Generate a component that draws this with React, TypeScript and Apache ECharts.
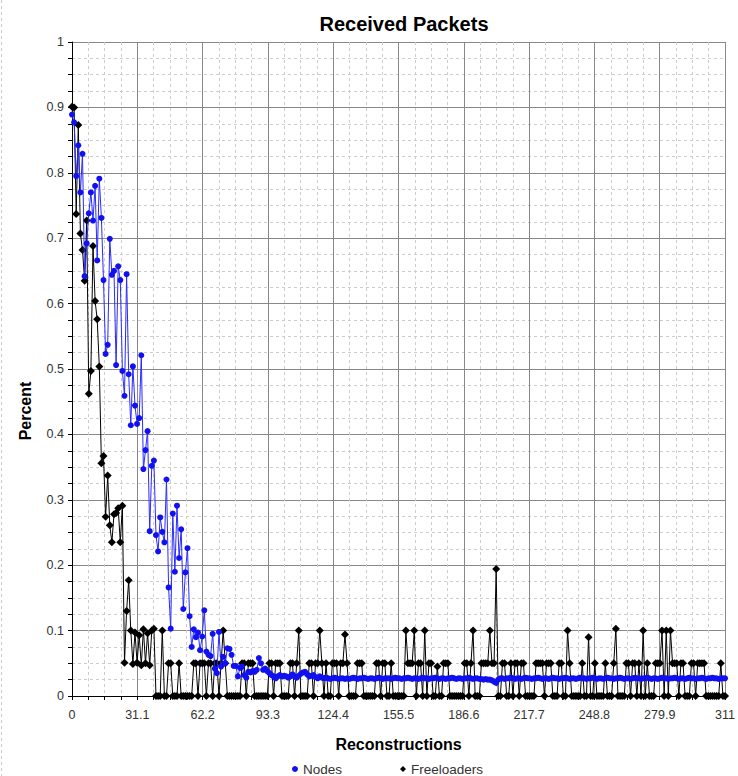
import React, { useEffect, useRef } from "react";
import * as echarts from "echarts";

// Tick labels
const xTickValues = [0, 31.1, 62.2, 93.3, 124.4, 155.5, 186.6, 217.7, 248.8, 279.9, 311];
const yTickValues = [0, 0.1, 0.2, 0.3, 0.4, 0.5, 0.6, 0.7, 0.8, 0.9, 1];

// Nodes (fraction of received packets), one value per reconstruction 0..311
const nodes = [
  .889, .877, .795, .842, .770, .829, .642, .692, .738, .770,
  .727, .780, .666, .791, .731, .636, .523, .537, .699, .644,
  .650, .506, .657, .636, .497, .459, .645, .492, .414, .504,
  .444, .416, .425, .521, .347, .376, .405, .252, .352, .360,
  .246, .221, .273, .251, .235, .331, .166, .103, .279, .190,
  .291, .211, .255, .133, .189, .226, .122, .075, .102, .090,
  .097, .070, .091, .131, .068, .063, .061, .095, .042, .035,
  .098, .045, .060, .050, .073, .072, .063, .046, .046, .030,
  .043, .045, .032, .028, .037, .036, .038, .037, .040, .058,
  .050, .040, .042, .038, .035, .032, .030, .027, .030, .032,
  .030, .031, .030, .028, .030, .033, .030, .028, .031, .034,
  .036, .037, .033, .030, .031, .032, .029, .027, .030, .028,
  .027, .028, .027, .026, .027, .028, .027, .026, .027, .027,
  .026, .027, .026, .027, .028, .027, .026, .027, .027, .028,
  .027, .026, .027, .027, .026, .027, .028, .027, .026, .027,
  .027, .027, .026, .027, .028, .027, .027, .026, .027, .027,
  .028, .027, .026, .027, .027, .026, .027, .028, .027, .027,
  .026, .027, .027, .028, .027, .026, .027, .027, .026, .027,
  .027, .028, .027, .026, .027, .027, .026, .027, .027, .028,
  .027, .026, .027, .027, .026, .026, .025, .026, .025, .025,
  .024, .022, .020, .025, .027, .027, .026, .027, .027, .028,
  .027, .026, .027, .027, .026, .027, .028, .027, .027, .026,
  .027, .027, .028, .027, .026, .027, .027, .026, .027, .028,
  .027, .027, .026, .027, .027, .028, .027, .026, .027, .027,
  .026, .027, .028, .027, .027, .026, .027, .027, .028, .027,
  .026, .027, .027, .026, .027, .028, .027, .027, .026, .027,
  .027, .028, .027, .026, .027, .027, .026, .027, .028, .027,
  .027, .026, .027, .027, .028, .027, .026, .027, .027, .026,
  .027, .028, .027, .027, .026, .027, .027, .028, .027, .026,
  .027, .027, .026, .027, .028, .027, .027, .026, .027, .027,
  .028, .027, .026, .027, .027, .028, .027, .027, .026, .027,
  .027, .027
];

// Freeloaders, one value per reconstruction 0..311
const freeloaders = [
  .901, .900, .737, .873, .707, .682, .635, .727, .462, .497,
  .688, .604, .576, .504, .356, .367, .274, .337, .261, .235,
  .278, .280, .287, .235, .291, .051, .130, .177, .100, .049,
  .097, .051, .093, .047, .102, .050, .096, .047, .100, .103,
  0, 0, 0, .1, 0, 0, .05, .05, 0, 0,
  0, .05, 0, 0, 0, 0, 0, 0, .05, .05,
  0, .05, .05, .05, 0, .05, .05, 0, .05, .05,
  0, .05, .1, .05, 0, 0, 0, 0, 0, 0,
  0, .05, .05, 0, .05, .05, .05, 0, 0, 0,
  0, 0, 0, 0, .05, .05, 0, .05, .05, .05,
  0, 0, 0, 0, .05, .05, 0, .05, .1, 0,
  0, 0, 0, .05, .05, 0, .05, .05, .1, .05,
  0, .05, 0, 0, .05, .05, .05, 0, .05, .05,
  .094, .05, 0, 0, 0, 0, .05, .05, .05, 0,
  0, 0, 0, 0, 0, .05, .05, 0, .05, .05,
  0, 0, .05, 0, 0, 0, 0, 0, 0, .1,
  .05, .05, .05, .1, 0, .05, .05, 0, .1, 0,
  .05, .05, 0, 0, .045, 0, 0, .05, .05, .05,
  0, 0, 0, 0, 0, 0, 0, .05, .05, 0,
  .05, .1, 0, 0, 0, .05, .05, .05, .05, .1,
  .05, .05, .194, 0, 0, .05, .05, 0, 0, .05,
  0, .05, .05, 0, .05, .05, 0, 0, 0, 0,
  0, .05, .05, .05, .05, 0, .05, .05, .05, 0,
  0, 0, .05, .05, 0, 0, .1, .05, 0, 0,
  0, 0, 0, .05, 0, 0, .09, 0, 0, .05,
  0, 0, 0, 0, .05, 0, 0, 0, .05, .103,
  0, 0, 0, 0, .05, .05, 0, .05, .05, 0,
  .05, 0, .1, 0, .05, 0, 0, 0, .05, .05,
  .05, .1, 0, .1, 0, .1, .05, .05, .05, 0,
  .05, .05, 0, 0, 0, .05, .05, 0, .05, .05,
  .05, .05, 0, 0, 0, 0, 0, 0, 0, .05,
  0, 0
];

const FONT = "'Liberation Sans', Arial, sans-serif";

function fmt(v: number): string {
  const r = Math.round(v * 10) / 10;
  return String(r);
}

export default function App() {
  const ref = useRef<HTMLDivElement>(null);

  useEffect(() => {
    if (!ref.current) return;
    const chart = echarts.init(ref.current, undefined, { renderer: "svg" });
    const xMax = xTickValues[xTickValues.length - 1];
    const xInterval = xTickValues[1] - xTickValues[0];
    const yMax = yTickValues[yTickValues.length - 1];
    const yInterval = yTickValues[1] - yTickValues[0];

    const option: any = {
      animation: false,
      backgroundColor: "#ffffff",
      textStyle: { fontFamily: FONT },
      title: {
        text: "Received Packets",
        left: 399,
        top: 9,
        textAlign: "center",
        textStyle: { fontSize: 20, fontWeight: "bold", color: "#000", fontFamily: FONT },
      },
      legend: {
        data: [
          { name: "Nodes", icon: "circle" },
          { name: "Freeloaders", icon: "diamond" },
        ],
        left: 292,
        top: 762,
        itemGap: 58,
        itemWidth: 6,
        itemHeight: 6,
        padding: 0,
        textStyle: { fontSize: 13.5, color: "#333", fontFamily: FONT },
      },
      grid: { left: 72, right: 11, top: 42, bottom: 80, containLabel: false },
      graphic: [
        {
          type: "line",
          shape: { x1: 1.5, y1: 0, x2: 1.5, y2: 776 },
          style: { stroke: "#c8c8c8", lineWidth: 1, lineDash: [3, 3] },
          silent: true,
        },
        {
          type: "text",
          x: 25,
          y: 411,
          rotation: Math.PI / 2,
          style: {
            text: "Percent",
            fill: "#000",
            font: `bold 16px ${FONT}`,
            align: "center",
            verticalAlign: "middle",
            textAlign: "center",
            textVerticalAlign: "middle",
          },
          silent: true,
        },
      ],
      xAxis: {
        type: "value",
        min: 0,
        max: xMax,
        interval: xInterval,
        name: "Reconstructions",
        nameLocation: "middle",
        nameGap: 40,
        nameTextStyle: { fontSize: 16, fontWeight: "bold", color: "#000", fontFamily: FONT },
        axisLine: { show: true, onZero: false, lineStyle: { color: "#000", width: 1 } },
        axisTick: { show: true, length: 4, lineStyle: { color: "#000" } },
        minorTick: { show: true, splitNumber: 4, length: 4, lineStyle: { color: "#000" } },
        axisLabel: {
          fontSize: 12.5,
          color: "#333",
          margin: 12,
          fontFamily: FONT,
          formatter: (v: number) => fmt(v),
        },
        splitLine: { show: true, lineStyle: { color: "#888", width: 1 } },
        minorSplitLine: { show: true, lineStyle: { color: "#cccccc", width: 1, type: [3, 3] } },
      },
      yAxis: {
        type: "value",
        min: 0,
        max: yMax,
        interval: yInterval,
        axisLine: { show: true, lineStyle: { color: "#000", width: 1 } },
        axisTick: { show: true, length: 4, lineStyle: { color: "#000" } },
        minorTick: { show: true, splitNumber: 4, length: 4, lineStyle: { color: "#000" } },
        axisLabel: {
          fontSize: 12.5,
          color: "#333",
          margin: 8,
          fontFamily: FONT,
          formatter: (v: number) => fmt(v),
        },
        splitLine: { show: true, lineStyle: { color: "#888", width: 1 } },
        minorSplitLine: { show: true, lineStyle: { color: "#cccccc", width: 1, type: [3, 3] } },
      },
      series: [
        {
          name: "Freeloaders",
          type: "line",
          data: freeloaders.map((v, i) => [i, v]),
          symbol: "diamond",
          symbolSize: 8,
          showAllSymbol: true,
          lineStyle: { color: "#000", width: 1 },
          itemStyle: { color: "#000" },
          z: 2,
        },
        {
          name: "Nodes",
          type: "line",
          data: nodes.map((v, i) => [i, v]),
          symbol: "circle",
          symbolSize: 6,
          showAllSymbol: true,
          lineStyle: { color: "#2a2aff", width: 1 },
          itemStyle: { color: "#1010f0" },
          z: 3,
        },
      ],
    };
    chart.setOption(option);
    return () => chart.dispose();
  }, []);

  return (
    <div
      ref={ref}
      style={{ position: "absolute", left: 0, top: 0, width: 738, height: 776 }}
    />
  );
}
